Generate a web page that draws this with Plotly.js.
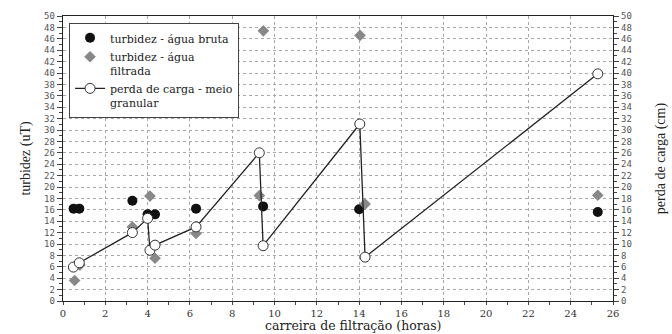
<!DOCTYPE html>
<html>
<head>
<meta charset="utf-8">
<script src="https://cdn.plot.ly/plotly-3.0.1.min.js"></script>
<style>html,body{margin:0;padding:0;background:#fff;}#chart{width:672px;height:334px;}</style>
</head>
<body>
<div id="chart"></div>
<script>
// turbidez - água bruta (uT)
const brutaX = [0.5, 0.77, 3.28, 4.0, 4.35, 6.29, 9.46, 14.0, 25.28];
const brutaY = [16.2, 16.2, 17.6, 15.2, 15.2, 16.2, 16.6, 16.1, 15.6];
// turbidez - água filtrada (uT)
const filtX = [0.55, 0.8, 3.28, 4.11, 4.35, 6.29, 9.28, 9.47, 14.04, 14.28, 25.28];
const filtY = [3.6, 6.3, 13.0, 18.4, 7.5, 11.85, 18.5, 47.4, 46.6, 17.0, 18.55];
// perda de carga - meio granular (cm)
const perdaX = [0.49, 0.77, 3.28, 4.0, 4.11, 4.35, 6.29, 9.28, 9.46, 14.03, 14.28, 25.28];
const perdaY = [5.95, 6.7, 12.0, 14.5, 8.9, 9.8, 13.0, 26.0, 9.7, 31.05, 7.7, 39.85];
const xTicks = [0,2,4,6,8,10,12,14,16,18,20,22,24,26];

const SERIF = '"Liberation Serif", "Times New Roman", serif';
const WSERIF = '"DejaVu Serif", serif';
const tickFont = {family: '"DejaVu Sans Mono", monospace', size: 9, color: '#555'};
const titleFont = {family: SERIF, size: 14, color: '#222'};

const traces = [
  {x: brutaX, y: brutaY, type: 'scatter', mode: 'markers', name: 'turbidez - água bruta',
   marker: {symbol: 'circle', size: 10, color: '#111', line: {width: 0}}},
  {x: filtX, y: filtY, type: 'scatter', mode: 'markers', name: 'turbidez - água<br>filtrada',
   marker: {symbol: 'diamond', size: 9, color: '#888', line: {width: 0}}},
  {x: perdaX, y: perdaY, type: 'scatter', mode: 'lines+markers', name: 'perda de carga - meio<br>granular',
   yaxis: 'y2',
   line: {color: '#222', width: 1.3},
   marker: {symbol: 'circle', size: 10, color: '#fff', line: {color: '#333', width: 1}}}
];

const gridCommon = {
  showgrid: true, gridcolor: '#a8a8a8', griddash: 'dot', gridwidth: 1,
  zeroline: false, showline: true, linecolor: '#222', linewidth: 1.3,
  ticks: 'outside', ticklen: 5, tickcolor: '#444', tickfont: tickFont
};

const layout = {
  width: 672, height: 334,
  font: {family: SERIF, size: 13, color: '#222'},
  margin: {l: 63, r: 59, t: 16, b: 33},
  paper_bgcolor: '#fff', plot_bgcolor: '#fff',
  showlegend: true,
  legend: {x: 0.011, y: 0.975, xanchor: 'left', yanchor: 'top',
           bgcolor: '#fff', bordercolor: '#444', borderwidth: 1,
           font: {family: WSERIF, size: 11, color: '#222'},
           valign: 'top', tracegroupgap: 0, itemwidth: 30},
  xaxis: Object.assign({}, gridCommon, {
    range: [0, 26], tickvals: xTicks, mirror: true, ticklen: 3,
    minor: {dtick: 1, ticks: 'outside', ticklen: 3, tickcolor: '#444', showgrid: false},
    tickfont: {family: WSERIF, size: 10, color: '#333'}
  }),
  yaxis: Object.assign({}, gridCommon, {
    range: [0, 50], dtick: 2,
    minor: {dtick: 1, ticks: 'outside', ticklen: 3, tickcolor: '#444', showgrid: false},
    title: {text: 'turbidez (uT)', font: titleFont, standoff: 10}
  }),
  yaxis2: Object.assign({}, gridCommon, {
    range: [0, 50], dtick: 2, overlaying: 'y', side: 'right', showgrid: false,
    minor: {dtick: 1, ticks: 'outside', ticklen: 3, tickcolor: '#444', showgrid: false},
    title: {text: 'perda de carga (cm)', font: titleFont, standoff: 24}
  }),
  annotations: [{
    text: 'carreira de filtração (horas)', xref: 'paper', yref: 'paper',
    x: 0.527, y: -0.115, xanchor: 'center', yanchor: 'bottom', showarrow: false,
    borderpad: 0,
    font: {family: WSERIF, size: 12.5, color: '#222'}
  }]
};

Plotly.newPlot('chart', traces, layout, {displayModeBar: false, staticPlot: true});
</script>
</body>
</html>
